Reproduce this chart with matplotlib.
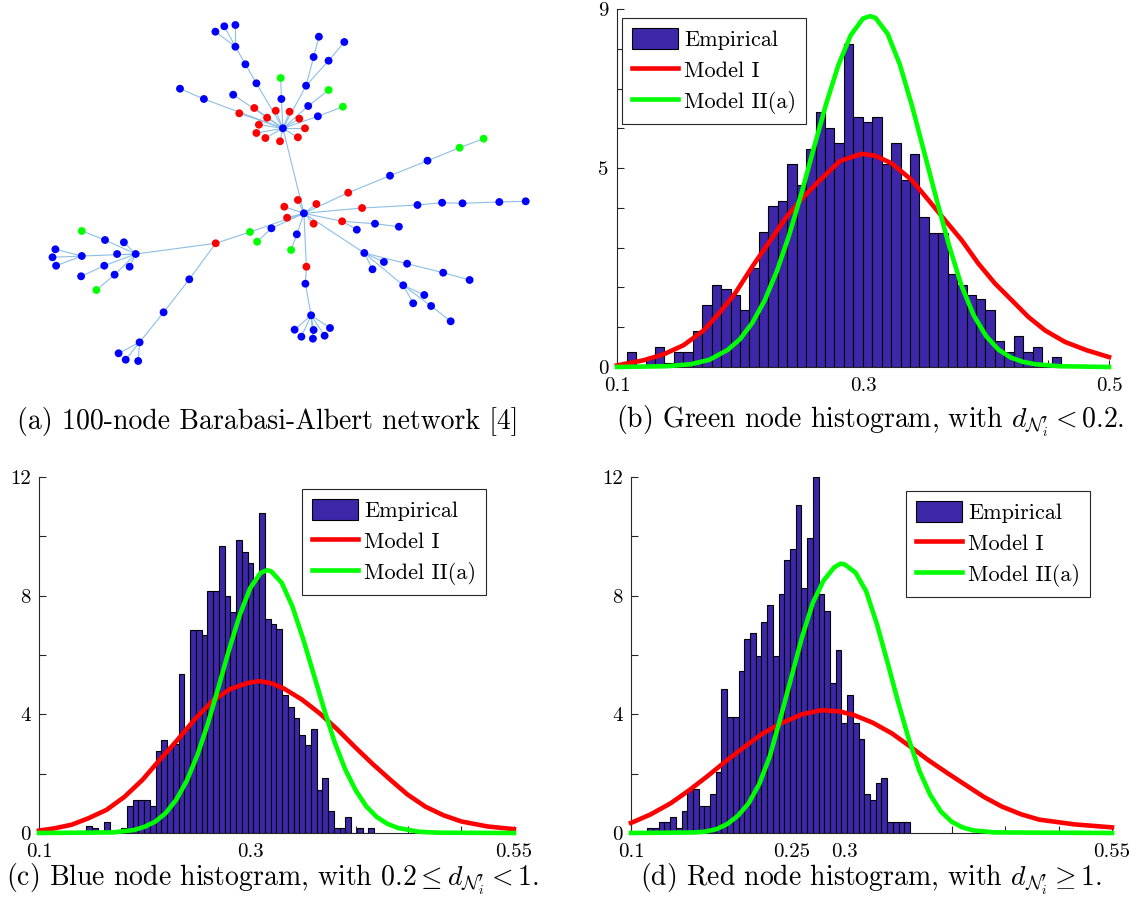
import numpy as np
import matplotlib.pyplot as plt
from matplotlib.patches import Patch
from matplotlib.lines import Line2D

plt.rcParams['font.family'] = 'cmr10'
plt.rcParams['mathtext.fontset'] = 'cm'
plt.rcParams['axes.formatter.use_mathtext'] = True

W, H = 1136, 908

# ---- network (layout coordinates in pixels of the left panel) ----
node_names = ['A', 'B', 'C',
              'u1', 'u2', 'u3', 'u4', 'u5', 'u6', 'u7', 'u8', 'u9', 'u10',
              'u11', 'u12', 'u13', 'u14', 'u15', 'u16', 'u17', 'u18', 'u19', 'u20',
              'r1', 'r2', 'r3', 'r4', 'r5', 'r6', 'r7', 'r8', 'r9', 'r10', 'r11', 'r12',
              's1', 's2', 's3', 's4', 's5', 's6', 's7', 's8', 's9', 's10',
              'b1', 'b2', 'g1', 'g2', 'b3', 'b4', 'b5', 'b6', 'b7', 'b8', 'b9', 'b10',
              'b11', 'b12', 'b13', 'b14', 'b15', 'b16', 'b17', 'b18', 'b19', 'b20', 'b21',
              'b22', 'g3', 'b23', 'b24', 'l1', 'l2', 'l3', 'l4', 'l5', 'l6',
              'b25', 'g4', 'g5', 'b26', 'b27', 'b28', 'l7', 'l8', 'l9',
              'c1', 'c2', 'c3', 'cg1', 'c4', 'c5', 'cg2', 'c6', 'c7', 'c8', 'c9', 'c10', 'c11']
node_x = [282.9, 303.9, 135.7,
          256.4, 245.4, 235.4, 215.4, 224.3, 235.4, 280.7, 281.4, 306.1, 313.6,
          318.9, 328.6, 344.3, 308.2, 328.6, 317.9, 342.9, 233.2, 180.0, 203.9,
          239.3, 254.3, 275.7, 289.6, 267.1, 299.3, 258.9, 305.0, 256.4, 265.4, 280.0, 297.9,
          297.9, 284.3, 316.4, 287.1, 313.6, 348.2, 362.1, 342.1, 306.4, 215.7,
          390.0, 427.5, 459.6, 483.6, 417.5, 442.1, 462.5, 499.3, 525.7, 375.0, 398.9, 356.8,
          364.3, 383.9, 372.5, 407.1, 443.2, 469.6, 403.2, 424.3, 413.2, 431.1, 450.7,
          296.8, 291.1, 305.4, 311.1, 294.6, 301.4, 313.6, 312.9, 324.6, 330.0,
          271.4, 257.1, 250.0, 189.3, 163.6, 139.6, 118.6, 125.7, 138.2,
          117.1, 123.9, 105.0, 81.8, 129.6, 114.6, 96.4, 104.3, 81.1, 81.8, 55.4, 52.5, 56.1]
node_y = [128.3, 213.3, 254.0,
          83.3, 64.3, 46.7, 31.7, 26.3, 25.0, 78.0, 99.0, 85.7, 57.0,
          36.7, 60.7, 42.0, 106.0, 90.0, 116.3, 106.7, 94.7, 88.7, 99.0,
          113.3, 108.0, 110.7, 111.7, 117.7, 118.7, 124.7, 128.3, 133.0, 138.0, 141.3, 137.3,
          200.0, 206.7, 204.0, 217.7, 223.7, 192.7, 208.0, 221.3, 266.7, 243.3,
          175.7, 160.7, 147.7, 138.7, 205.0, 202.7, 203.3, 202.0, 201.3, 223.7, 226.7, 229.7,
          253.0, 262.0, 269.3, 263.7, 272.7, 280.0, 285.3, 295.0, 303.3, 306.0, 321.3,
          234.3, 250.0, 283.7, 315.3, 329.7, 336.7, 330.0, 338.7, 335.7, 328.0,
          228.3, 241.7, 232.0, 279.3, 312.3, 342.3, 353.3, 359.7, 361.0,
          254.0, 242.3, 240.0, 231.0, 266.7, 274.7, 290.0, 265.7, 276.3, 256.0, 249.3, 257.3, 265.7]
node_kind = ['b', 'b', 'b',
             'b', 'b', 'b', 'b', 'b', 'b', 'g', 'b', 'b', 'b',
             'b', 'b', 'b', 'b', 'g', 'b', 'g', 'b', 'b', 'b',
             'r', 'r', 'r', 'r', 'r', 'r', 'r', 'r', 'r', 'r', 'r', 'r',
             'r', 'r', 'r', 'r', 'r', 'r', 'r', 'r', 'r', 'r',
             'b', 'b', 'g', 'g', 'b', 'b', 'b', 'b', 'b', 'b', 'b', 'b',
             'b', 'b', 'b', 'b', 'b', 'b', 'b', 'b', 'b', 'b', 'b',
             'b', 'g', 'b', 'b', 'b', 'b', 'b', 'b', 'b', 'b',
             'b', 'g', 'g', 'b', 'b', 'b', 'b', 'b', 'b',
             'b', 'b', 'b', 'g', 'b', 'b', 'g', 'b', 'b', 'b', 'b', 'b', 'b']
edges = [('A', 'u1'), ('u1', 'u2'), ('u2', 'u3'), ('u3', 'u4'), ('u3', 'u5'), ('u3', 'u6'),
         ('A', 'u8'), ('u8', 'u7'), ('A', 'u9'), ('u9', 'u10'), ('u10', 'u11'),
         ('u9', 'u12'), ('u12', 'u13'), ('A', 'u14'), ('u14', 'u15'), ('A', 'u16'),
         ('u16', 'u17'), ('A', 'u18'), ('A', 'u20'), ('u20', 'u19'),
         ('A', 'r1'), ('A', 'r2'), ('A', 'r3'), ('A', 'r4'), ('A', 'r5'), ('A', 'r6'),
         ('A', 'r7'), ('A', 'r8'), ('A', 'r9'), ('A', 'r10'), ('A', 'r11'), ('A', 'r12'),
         ('A', 'B'),
         ('B', 's1'), ('B', 's2'), ('B', 's3'), ('B', 's4'), ('B', 's5'),
         ('B', 's6'), ('s6', 'b1'), ('b1', 'b2'), ('b2', 'g1'), ('g1', 'g2'),
         ('B', 's7'), ('s7', 'b3'), ('b3', 'b4'), ('b4', 'b5'), ('b5', 'b6'), ('b6', 'b7'),
         ('B', 's8'), ('s8', 'b8'), ('b8', 'b9'), ('s8', 'b10'),
         ('B', 'b11'), ('b11', 'b12'), ('b11', 'b13'), ('b11', 'b14'), ('b14', 'b15'),
         ('b15', 'b16'), ('b11', 'b17'), ('b17', 'b18'), ('b17', 'b19'), ('b17', 'b20'),
         ('b20', 'b21'), ('B', 'b22'), ('b22', 'g3'),
         ('B', 's9'), ('s9', 'b23'), ('b23', 'b24'), ('b24', 'l1'), ('b24', 'l2'),
         ('b24', 'l3'), ('b24', 'l4'), ('b24', 'l5'), ('b24', 'l6'),
         ('B', 'b25'), ('b25', 'g4'), ('B', 'g5'), ('g5', 's10'), ('s10', 'C'),
         ('s10', 'b26'), ('b26', 'b27'), ('b27', 'b28'), ('b28', 'l7'), ('b28', 'l8'),
         ('b28', 'l9'),
         ('C', 'c1'), ('C', 'c2'), ('C', 'c3'), ('c3', 'cg1'), ('C', 'c4'), ('C', 'c5'),
         ('c5', 'cg2'), ('C', 'c6'), ('c6', 'c7'), ('C', 'c8'), ('c8', 'c9'),
         ('c8', 'c10'), ('c8', 'c11')]

# ---- histograms: bin range + bar heights (pdf) ----
b_bins = (0.1079, 0.461)
b_heights = [0.38, 0.0, 0.24, 0.50, 0.11, 0.38, 0.38, 0.90, 1.57, 2.07, 1.95, 1.82,
             1.43, 2.49, 3.40, 4.05, 4.17, 5.10, 4.57, 5.48, 6.41, 6.02, 5.62, 8.12,
             6.28, 6.15, 6.28, 5.10, 5.62, 4.70, 5.36, 3.78, 3.38, 3.38, 2.35, 2.07,
             1.82, 1.70, 1.43, 0.65, 0.38, 0.77, 0.38, 0.50, 0.0, 0.24]
b_red_x = [0.100, 0.1217, 0.138, 0.1542, 0.1705, 0.184, 0.196, 0.2108, 0.2244, 0.2379,
           0.2515, 0.265, 0.2813, 0.2989, 0.310, 0.3233, 0.3396, 0.3531, 0.3667, 0.3802,
           0.3938, 0.4073, 0.4209, 0.4344, 0.448, 0.4642, 0.482, 0.500]
b_red_y = [0.04, 0.17, 0.32, 0.55, 0.92, 1.39, 1.85, 2.56, 3.17, 3.78,
           4.27, 4.70, 5.18, 5.36, 5.31, 5.12, 4.70, 4.20, 3.69, 3.19,
           2.60, 2.10, 1.68, 1.26, 0.92, 0.63, 0.42, 0.25]
b_green_x = [0.100, 0.140, 0.160, 0.175, 0.190, 0.200, 0.210, 0.220, 0.230, 0.240,
             0.250, 0.260, 0.270, 0.280, 0.290, 0.300, 0.3057, 0.310, 0.320, 0.330,
             0.340, 0.350, 0.360, 0.370, 0.380, 0.390, 0.400, 0.410, 0.420, 0.430,
             0.440, 0.460, 0.500]
b_green_y = [0.00, 0.02, 0.07, 0.18, 0.43, 0.70, 1.11, 1.67, 2.41, 3.32,
             4.37, 5.50, 6.61, 7.59, 8.34, 8.76, 8.82, 8.78, 8.38, 7.60,
             6.55, 5.37, 4.19, 3.05, 2.05, 1.30, 0.78, 0.44, 0.24, 0.13,
             0.07, 0.02, 0.00]

c_bins = (0.145, 0.4176)
c_heights = [0.23, 0.17, 0.0, 0.36, 0.0, 0.0, 0.17, 0.92, 1.10, 1.10, 1.10, 0.92,
             2.78, 3.15, 2.90, 3.00, 5.37, 3.52, 6.85, 6.85, 6.68, 8.17, 8.17, 9.67,
             8.00, 7.44, 9.86, 9.46, 9.10, 8.54, 10.78, 7.23, 7.06, 6.87, 4.64, 4.26,
             3.89, 3.32, 2.96, 3.52, 1.46, 1.84, 0.73, 0.17, 0.17, 0.54, 0.0, 0.17,
             0.0, 0.17]
c_red_x = [0.100, 0.115, 0.131, 0.147, 0.164, 0.181, 0.198, 0.214, 0.231, 0.248,
           0.265, 0.281, 0.298, 0.309, 0.320, 0.332, 0.349, 0.366, 0.383, 0.399,
           0.416, 0.433, 0.449, 0.466, 0.483, 0.500, 0.525, 0.550]
c_red_y = [0.08, 0.16, 0.28, 0.50, 0.78, 1.22, 1.79, 2.45, 3.13, 3.85,
           4.47, 4.85, 5.06, 5.12, 5.05, 4.87, 4.50, 4.03, 3.48, 2.91,
           2.33, 1.79, 1.30, 0.89, 0.60, 0.39, 0.22, 0.13]
c_green_x = [0.100, 0.170, 0.190, 0.200, 0.210, 0.220, 0.230, 0.240, 0.250, 0.260,
             0.270, 0.280, 0.290, 0.300, 0.310, 0.316, 0.320, 0.330, 0.340, 0.350,
             0.360, 0.370, 0.380, 0.390, 0.400, 0.410, 0.420, 0.430, 0.440, 0.460,
             0.480, 0.550]
c_green_y = [0.00, 0.02, 0.10, 0.21, 0.38, 0.67, 1.12, 1.76, 2.62, 3.69,
             4.91, 6.17, 7.33, 8.25, 8.77, 8.86, 8.82, 8.43, 7.64, 6.57,
             5.38, 4.18, 3.07, 2.15, 1.44, 0.90, 0.54, 0.31, 0.17, 0.04,
             0.01, 0.00]

d_bins = (0.1152, 0.361)
d_heights = [0.17, 0.17, 0.37, 0.37, 0.54, 0.17, 0.75, 1.48, 1.48, 0.92, 0.92, 1.31,
             2.05, 4.87, 3.91, 3.91, 5.45, 6.54, 6.74, 5.98, 7.12, 7.68, 5.98, 8.05,
             9.19, 9.56, 11.07, 8.25, 9.93, 12.0, 8.05, 7.49, 5.06, 6.18, 3.72, 4.66,
             3.72, 3.17, 1.31, 1.12, 1.68, 1.85, 0.37, 0.37, 0.37, 0.37]
d_red_x = [0.100, 0.118, 0.137, 0.154, 0.171, 0.188, 0.206, 0.223, 0.240, 0.260,
           0.278, 0.295, 0.309, 0.326, 0.344, 0.361, 0.378, 0.396, 0.413, 0.430,
           0.447, 0.465, 0.482, 0.515, 0.550]
d_red_y = [0.34, 0.62, 1.00, 1.43, 1.90, 2.40, 2.90, 3.35, 3.69, 4.00,
           4.14, 4.10, 3.97, 3.72, 3.36, 2.92, 2.46, 2.02, 1.62, 1.22,
           0.89, 0.63, 0.45, 0.29, 0.19]
d_green_x = [0.100, 0.160, 0.170, 0.180, 0.190, 0.200, 0.210, 0.220, 0.230, 0.240,
             0.250, 0.260, 0.270, 0.280, 0.290, 0.296, 0.300, 0.310, 0.320, 0.330,
             0.340, 0.350, 0.360, 0.370, 0.380, 0.390, 0.400, 0.410, 0.420, 0.440,
             0.550]
d_green_y = [0.00, 0.02, 0.05, 0.13, 0.30, 0.58, 1.00, 1.65, 2.60, 3.90,
             5.25, 6.60, 7.75, 8.50, 8.95, 9.08, 9.05, 8.78, 8.15, 7.05,
             5.75, 4.40, 3.15, 2.08, 1.28, 0.72, 0.38, 0.19, 0.09, 0.02,
             0.00]

captions = ["(a) 100-node Barabasi-Albert network [4]",
            r"(b) Green node histogram, with $d_{\mathcal{N}^{\prime}_i} < 0.2$.",
            r"(c) Blue node histogram, with $0.2 \leq d_{\mathcal{N}^{\prime}_i} < 1$.",
            r"(d) Red node histogram, with $d_{\mathcal{N}^{\prime}_i} \geq 1$."]

bar_color = (0.2422, 0.1504, 0.6603)
axis_gray = (0.15, 0.15, 0.15)


def px_axes(fig, left, top, right, bottom):
    return fig.add_axes([left / W, 1 - bottom / H, (right - left) / W, (bottom - top) / H])


def hist_panel(ax, bins, heights, rx, ry, gx, gy, xlim, ylim,
               xticks, xlabels, yticks, ylabels, leg_xy):
    edges = np.linspace(bins[0], bins[1], len(heights) + 1)
    ax.bar(edges[:-1], heights, width=np.diff(edges), align='edge',
           color=bar_color, edgecolor='black', linewidth=0.8, zorder=2)
    ax.plot(rx, ry, color='red', lw=3.3, zorder=5, clip_on=False,
            solid_joinstyle='round')
    ax.plot(gx, gy, color=(0, 1, 0), lw=3.3, zorder=6, clip_on=False,
            solid_joinstyle='round')
    ax.set_xlim(*xlim)
    ax.set_ylim(*ylim)
    ax.set_xticks(xticks)
    ax.set_xticklabels(xlabels)
    ax.set_yticks(yticks)
    ax.set_yticklabels(ylabels)
    for s in ['top', 'right']:
        ax.spines[s].set_visible(False)
    for s in ['left', 'bottom']:
        ax.spines[s].set_color(axis_gray)
        ax.spines[s].set_linewidth(0.8)
        ax.spines[s].set_zorder(4)
    ax.tick_params(direction='in', length=5, width=0.8, color=axis_gray,
                   labelsize=15)
    ax.tick_params(axis='x', pad=7)
    ax.tick_params(axis='y', pad=6)
    ax.set_facecolor('none')

    handles = [Patch(facecolor=bar_color, edgecolor='black', linewidth=0.8),
               Line2D([], [], color='red', lw=3.3),
               Line2D([], [], color=(0, 1, 0), lw=3.3)]
    leg = ax.legend(handles, ['Empirical', 'Model I', 'Model II(a)'],
                    loc='upper left', bbox_to_anchor=(leg_xy[0] / W, 1 - leg_xy[1] / H),
                    bbox_transform=ax.figure.transFigure, borderaxespad=0,
                    fancybox=False, framealpha=1, edgecolor=axis_gray,
                    fontsize=16, handlelength=2.05, handleheight=1.07,
                    handletextpad=0.3, labelspacing=0.4, borderpad=0.45)
    leg.get_frame().set_linewidth(0.8)
    leg.set_zorder(10)


fig = plt.figure(figsize=(W / 100, H / 100), dpi=100)

# (a) network
ax_a = px_axes(fig, 0, 0, 560, 380)
pos = {n: (x, y) for n, x, y in zip(node_names, node_x, node_y)}
for u, v in edges:
    ax_a.plot([pos[u][0], pos[v][0]], [pos[u][1], pos[v][1]],
              color=(0.55, 0.75, 0.9), lw=0.8, zorder=1)
kind_color = {'b': (0, 0, 1), 'r': (1, 0, 0), 'g': (0, 1, 0)}
ax_a.scatter(node_x, node_y, s=32, c=[kind_color[k] for k in node_kind],
             edgecolors='none', zorder=2)
ax_a.set_xlim(0, 560)
ax_a.set_ylim(380, 0)
ax_a.axis('off')

# (b) green nodes
ax_b = px_axes(fig, 617, 9, 1109, 367)
hist_panel(ax_b, b_bins, b_heights, b_red_x, b_red_y, b_green_x, b_green_y,
           (0.1, 0.5), (0, 9),
           [0.1, 0.15, 0.2, 0.25, 0.3, 0.35, 0.4, 0.45, 0.5],
           ['0.1', '', '', '', '0.3', '', '', '', '0.5'],
           list(range(10)), ['0', '', '', '', '', '5', '', '', '', '9'],
           (622, 18))

# (c) blue nodes
ax_c = px_axes(fig, 39, 477, 514, 833)
hist_panel(ax_c, c_bins, c_heights, c_red_x, c_red_y, c_green_x, c_green_y,
           (0.1, 0.55), (0, 12),
           [0.1, 0.15, 0.2, 0.25, 0.3, 0.35, 0.4, 0.45, 0.5, 0.55],
           ['0.1', '', '', '', '0.3', '', '', '', '', '0.55'],
           [0, 2, 4, 6, 8, 10, 12], ['0', '', '4', '', '8', '', '12'],
           (302, 489))

# (d) red nodes
ax_d = px_axes(fig, 631, 477, 1112, 833)
hist_panel(ax_d, d_bins, d_heights, d_red_x, d_red_y, d_green_x, d_green_y,
           (0.1, 0.55), (0, 12),
           [0.1, 0.15, 0.2, 0.25, 0.3, 0.35, 0.4, 0.45, 0.5, 0.55],
           ['0.1', '', '', '0.25', '0.3', '', '', '', '', '0.55'],
           [0, 2, 4, 6, 8, 10, 12], ['0', '', '4', '', '8', '', '12'],
           (906, 491))

cap_pos = [(268, 421), (870, 421), (272, 879), (871, 879)]
for (cx, cy), txt in zip(cap_pos, captions):
    fig.text(cx / W, 1 - cy / H, txt, ha='center', va='center', fontsize=20)

fig.savefig('out.png', dpi=100)
